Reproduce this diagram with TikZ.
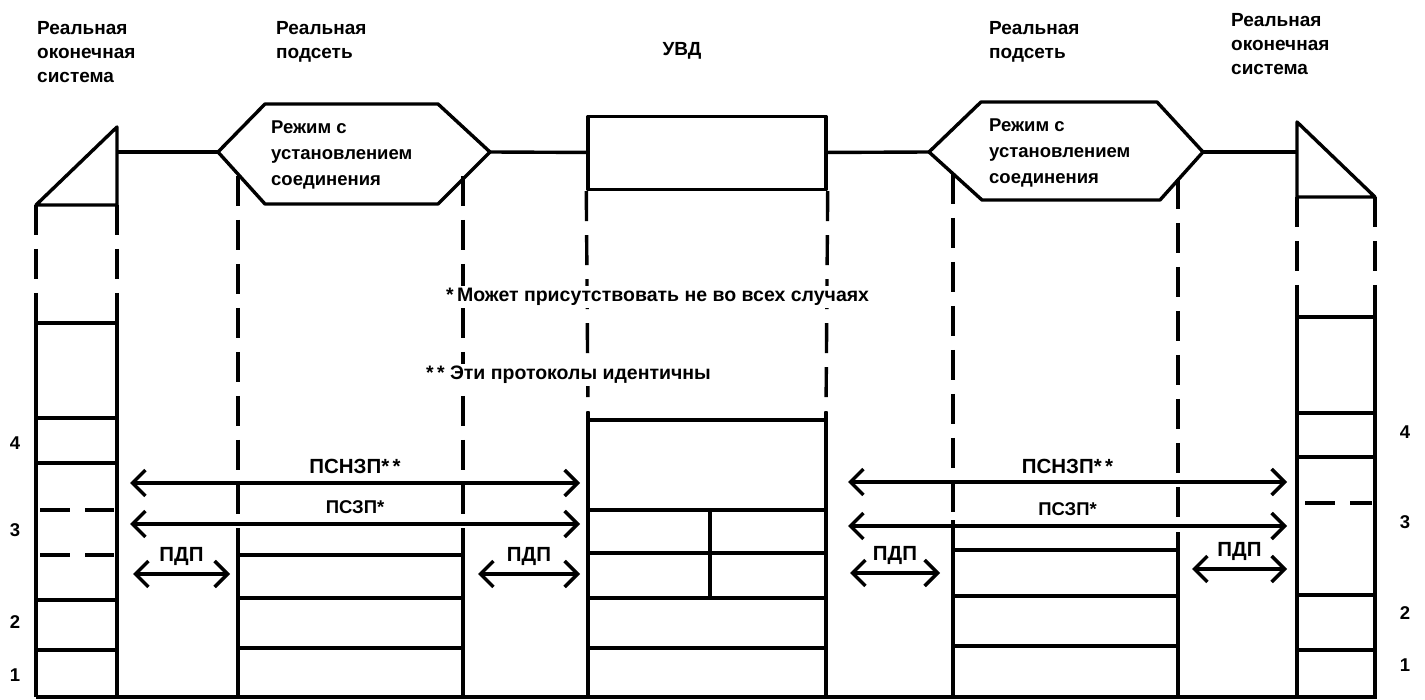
\documentclass[tikz,border=0pt]{standalone}
\usepackage{fontspec}
\setmainfont{Liberation Sans}
\usetikzlibrary{arrows.meta}

\begin{document}
\begin{tikzpicture}[x=1pt, y=-1pt, font=\bfseries\fontsize{18.5}{26}\selectfont]
    \tikzstyle{wire}  = [line width=3.4pt, line join=round];
    \tikzstyle{cut}   = [wire, dash pattern=on 30pt off 14pt];
    \tikzstyle{half}  = [wire, dash pattern=on 30pt off 15pt];
    \tikzstyle{txt}   = [align=left, inner sep=1pt];
    \tikzstyle{title} = [txt, anchor=north west, font=\bfseries\fontsize{19}{24}\selectfont];
    \tikzstyle{note}  = [fill=white, inner sep=2pt, anchor=west, font=\bfseries\fontsize{19.5}{24}\selectfont];
    \tikzstyle{wide}  = [font=\bfseries\fontsize{20.5}{24}\selectfont];
    \tikzstyle{proto} = [draw, line width=3.4pt, {Straight Barb[length=13pt,width=26pt]}-{Straight Barb[length=13pt,width=26pt]}];
    \useasboundingbox (0,0) rectangle (1425,700);

    % titles
    \node[title] (es1t) at (36,20) {Реальная\\оконечная\\система};
    \node[title] (sn1t) at (275,20) {Реальная\\подсеть};
    \node[txt, font=\bfseries\fontsize{19}{24}\selectfont] (uvdt) at (682,51) {УВД};
    \node[title] (sn2t) at (988,20) {Реальная\\подсеть};
    \node[title] (es2t) at (1230,12) {Реальная\\оконечная\\система};

    % upper row: systems, subnets and the relay
    \coordinate (es1) at (117,152);
    \coordinate (sn1w) at (218,152);
    \coordinate (sn1e) at (490,152);
    \coordinate (sn2w) at (929,152);
    \coordinate (sn2e) at (1203,152);
    \coordinate (es2) at (1297,152);
    \draw[wire] (117,127) -- (36,205) -- (117,205) -- cycle;
    \draw[wire] (sn1w) -- (265,104) -- (438,104) -- (sn1e) -- (438,204) -- (265,204) -- cycle;
    \draw[wire] (sn2w) -- (981,102) -- (1157,102) -- (sn2e) -- (1160,200) -- (982,200) -- cycle;
    \draw[wire] (1297,122) -- (1297,197) -- (1375,197) -- cycle;
    \node[txt, anchor=west] (sn1) at (270,155) {Режим с\\установлением\\соединения};
    \node[txt, anchor=west] (sn2) at (988,153) {Режим с\\установлением\\соединения};
    \node[draw, wire, minimum width=238pt, minimum height=73pt] (uvd) at (707,153) {};
    \draw[wire] (es1) -- (sn1w);
    \draw[wire] (sn1e) -- (uvd);
    \draw[wire] (uvd) -- (sn2w);
    \draw[wire] (sn2e) -- (es2);

    % end system, left
    \draw[cut] (36,205) -- (36,300);
    \draw[cut] (117,205) -- (117,300);
    \draw[wire] (36,300) -- (36,697);
    \draw[wire] (117,300) -- (117,697);
    \draw[wire] (36,323) -- (117,323);
    \draw[wire] (36,418) -- (117,418);
    \draw[wire] (36,463) -- (117,463);
    \draw[half] (40,510) -- (114,510);
    \draw[half] (40,555) -- (114,555);
    \draw[wire] (36,600) -- (117,600);
    \draw[wire] (36,650) -- (117,650);

    % subnet, left
    \draw[cut] (238,176) -- (238,538);
    \draw[cut] (463,176) -- (463,535);
    \draw[wire] (238,538) -- (238,697);
    \draw[wire] (463,535) -- (463,697);
    \draw[wire] (238,555) -- (463,555);
    \draw[wire] (238,598) -- (463,598);
    \draw[wire] (238,648) -- (463,648);

    % relay
    \draw[cut] (uvd.south west) -- (588,412);
    \draw[cut] (uvd.south east) -- (826,412);
    \draw[wire] (588,412) -- (588,697);
    \draw[wire] (826,412) -- (826,697);
    \draw[wire] (588,420) -- (826,420);
    \draw[wire] (588,510) -- (826,510);
    \draw[wire] (588,553) -- (826,553);
    \draw[wire] (588,598) -- (826,598);
    \draw[wire] (588,648) -- (826,648);
    \draw[wire] (710,510) -- (710,598);

    % subnet, right
    \draw[cut] (953,174) -- (953,520);
    \draw[cut] (1178,179) -- (1178,520);
    \draw[wire] (953,520) -- (953,697);
    \draw[wire] (1178,532) -- (1178,697);
    \draw[wire] (953,550) -- (1178,550);
    \draw[wire] (953,596) -- (1178,596);
    \draw[wire] (953,646) -- (1178,646);

    % end system, right
    \draw[cut] (1297,197) -- (1297,297);
    \draw[cut] (1375,197) -- (1375,300);
    \draw[wire] (1297,297) -- (1297,697);
    \draw[wire] (1375,300) -- (1375,697);
    \draw[wire] (1297,317) -- (1375,317);
    \draw[wire] (1297,413) -- (1375,413);
    \draw[wire] (1297,457) -- (1375,457);
    \draw[half] (1305,503) -- (1372,503);
    \draw[wire] (1297,595) -- (1375,595);
    \draw[wire] (1297,650) -- (1375,650);

    \draw[wire] (36,697) -- (1377,697);

    % layer numbers
    \node (l4) at (15,443) {4};
    \node (l3) at (15,530) {3};
    \node (l2) at (15,622) {2};
    \node (l1) at (15,675) {1};
    \node (r4) at (1405,432) {4};
    \node (r3) at (1405,522) {3};
    \node (r2) at (1405,613) {2};
    \node (r1) at (1405,665) {1};

    % notes
    \node[note] (n1) at (444,297) {*\,Может присутствовать не во всех случаях};
    \node[note] (n2) at (424,375) {*\,*\;Эти протоколы идентичны};

    % protocols
    \coordinate (a1) at (130,483);  \coordinate (b1) at (580,483);
    \coordinate (a2) at (130,524);  \coordinate (b2) at (580,524);
    \coordinate (a3) at (133,574);  \coordinate (b3) at (230,574);
    \coordinate (a4) at (478,574);  \coordinate (b4) at (580,574);
    \coordinate (a5) at (848,482);  \coordinate (b5) at (1287,482);
    \coordinate (a6) at (848,526);  \coordinate (b6) at (1287,526);
    \coordinate (a7) at (850,573);  \coordinate (b7) at (940,573);
    \coordinate (a8) at (1192,569); \coordinate (b8) at (1287,569);
    \path[proto] (a1) -- node[wide, above=4pt] {ПСНЗП*\,*} (b1);
    \path[proto] (a2) -- node[above=5pt] {ПСЗП*} (b2);
    \path[proto] (a3) -- node[wide, above=3pt] {ПДП} (b3);
    \path[proto] (a4) -- node[wide, above=3pt] {ПДП} (b4);
    \path[proto] (a5) -- node[wide, above=3pt] {ПСНЗП*\,*} (b5);
    \path[proto] (a6) -- node[above=5pt] {ПСЗП*} (b6);
    \path[proto] (a7) -- node[wide, above=3pt] {ПДП} (b7);
    \path[proto] (a8) -- node[wide, above=3pt] {ПДП} (b8);
\end{tikzpicture}
\end{document}
